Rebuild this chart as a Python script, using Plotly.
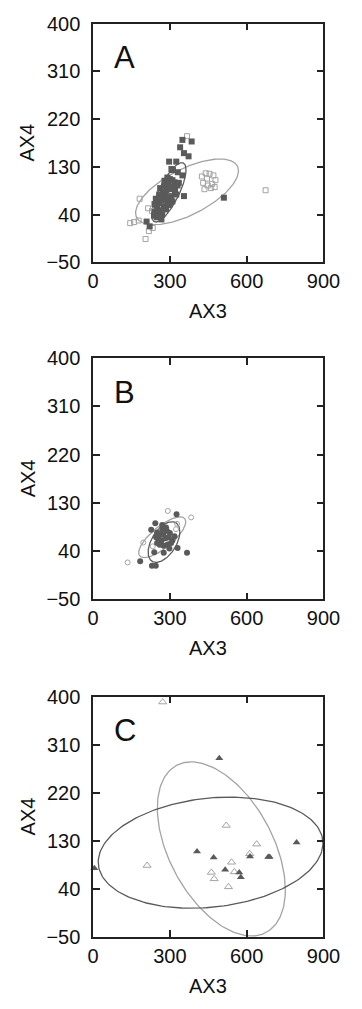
import numpy as np
import plotly.graph_objects as go

# ---------------- data ----------------
# Panel A (squares)
A_dark_x = [349, 385, 340, 355, 373, 297, 325, 306, 331, 349, 279, 300, 318, 312,
            355, 511, 249, 209, 221, 267,
            240, 250, 262, 275, 285, 295, 255, 268, 280, 292, 305, 245, 258, 272, 286,
            300, 315, 262, 278, 295, 320, 330, 248, 238, 270, 290, 310, 325, 255, 282,
            300, 265, 240, 335, 310, 290]
A_dark_y = [181, 178, 167, 156, 150, 140, 140, 126, 120, 114, 104, 107, 101, 124,
            75, 72, 35, 27, 18, 31,
            45, 52, 48, 55, 50, 58, 62, 66, 70, 72, 75, 70, 78, 82, 86,
            88, 92, 90, 95, 98, 85, 95, 58, 38, 40, 62, 65, 78, 40, 78,
            60, 72, 60, 100, 105, 110]
A_open_x = [367, 674, 182, 215, 145, 160, 178, 233, 218, 205,
            425, 440, 455, 470, 430, 448, 465, 478, 435, 460, 475, 445, 230, 290]
A_open_y = [188, 86, 70, 52, 24, 26, 29, 15, 9, -6,
            112, 118, 117, 114, 100, 95, 98, 105, 88, 90, 92, 108, 47, 100]

# Panel B (circles)
B_dark_x = [326, 243, 270, 227, 367, 184, 230, 245, 239, 276, 330,
            250, 262, 275, 288, 300, 255, 268, 282, 295, 310, 260, 275, 290, 305,
            250, 285, 270, 318, 246, 298]
B_dark_y = [109, 92, 89, 80, 37, 21, 13, 13, 38, 37, 46,
            75, 70, 72, 78, 74, 62, 60, 64, 66, 60, 52, 50, 52, 55,
            55, 84, 80, 68, 66, 45]
B_open_x = [292, 383, 328, 135, 196, 233, 324, 262, 280, 300]
B_open_y = [115, 103, 91, 19, 56, 49, 81, 78, 58, 62]

# Panel C (triangles)
C_dark_x = [493, -38, 5, 406, 471, 516, 571, 577, 613, 684, 690, 795]
C_dark_y = [285, 101, 79, 110, 99, 76, 71, 62, 101, 100, 100, 127]
C_open_x = [272, 520, 639, 612, 541, 211, 462, 473, 552, 529]
C_open_y = [390, 159, 124, 106, 90, 84, 71, 59, 72, 44]

# Ellipses: centre x, centre y, sd x, sd y, correlation
A_ell_dark = (296, 82, 67, 56, 0.76)
A_ell_gray = (367, 83, 201, 62, 0.64)
B_ell_dark = (277, 57, 62, 38, 0.50)
B_ell_gray = (270, 66, 92, 38, 0.76)
C_ell_dark = (459, 108, 439, 104, 0.17)
C_ell_gray = (501, 115, 250, 163, -0.47)

panel_labels = ["A", "B", "C"]
x_ticks = [0, 300, 600, 900]
y_ticks = [-50, 40, 130, 220, 310, 400]
x_title = "AX3"
y_title = "AX4"

# ---------------- styling ----------------
DARK = "#5a5a5a"
LIGHT = "#a3a3a3"
FONT = "Liberation Sans, Arial, sans-serif"
W, H = 362, 1009
x_dom = [93 / W, 339 / W]
y_doms = [[1 - 257 / H, 1 - 13 / H],
          [1 - 601.5 / H, 1 - 355 / H],
          [1 - 946.7 / H, 1 - 701 / H]]


def ellipse(p, n=200):
    cx, cy, sx, sy, r = p
    t = np.linspace(0, 2 * np.pi, n)
    x = cx + sx * np.cos(t)
    y = cy + sy * (r * np.cos(t) + np.sqrt(1 - r * r) * np.sin(t))
    return x, y


fig = go.Figure()

panels = [
    (A_dark_x, A_dark_y, A_open_x, A_open_y, "square", 6, 5, A_ell_dark, A_ell_gray),
    (B_dark_x, B_dark_y, B_open_x, B_open_y, "circle", 6, 5, B_ell_dark, B_ell_gray),
    (C_dark_x, C_dark_y, C_open_x, C_open_y, "triangle-up", 7, 7, C_ell_dark, C_ell_gray),
]

for i, (dx, dy, ox, oy, sym, sd, so, ed, eg) in enumerate(panels):
    xa = "x" if i == 0 else f"x{i+1}"
    ya = "y" if i == 0 else f"y{i+1}"
    ex, ey = ellipse(eg)
    fig.add_trace(go.Scatter(x=ex, y=ey, mode="lines", xaxis=xa, yaxis=ya,
                             line=dict(color=LIGHT, width=1.3), showlegend=False,
                             hoverinfo="skip"))
    ex, ey = ellipse(ed)
    fig.add_trace(go.Scatter(x=ex, y=ey, mode="lines", xaxis=xa, yaxis=ya,
                             line=dict(color=DARK, width=1.3), showlegend=False,
                             hoverinfo="skip"))
    fig.add_trace(go.Scatter(x=ox, y=oy, mode="markers", xaxis=xa, yaxis=ya,
                             marker=dict(symbol=sym + "-open", size=so, color=LIGHT,
                                         line=dict(width=1, color=LIGHT)),
                             cliponaxis=False, showlegend=False))
    fig.add_trace(go.Scatter(x=dx, y=dy, mode="markers", xaxis=xa, yaxis=ya,
                             marker=dict(symbol=sym, size=sd, color=DARK,
                                         line=dict(width=0)),
                             cliponaxis=False, showlegend=False))

axis_common = dict(showline=True, linecolor="#222222", linewidth=1.5, mirror="ticks",
                   ticks="inside", ticklen=7, tickwidth=1.5, tickcolor="#222222",
                   showgrid=False, zeroline=False,
                   tickfont=dict(family=FONT, size=20, color="#111111"))

layout = dict(width=W, height=H, margin=dict(l=0, r=0, t=0, b=0),
              paper_bgcolor="white", plot_bgcolor="white", showlegend=False,
              font=dict(family=FONT, color="#111111"))
annotations = []
for i in range(3):
    sx = "" if i == 0 else str(i + 1)
    layout["xaxis" + sx] = dict(axis_common, domain=x_dom, range=[0, 900],
                                tickvals=x_ticks, anchor="y" + sx,
                                ticklabelstandoff=0)
    layout["yaxis" + sx] = dict(axis_common, domain=y_doms[i], range=[-50, 400],
                                tickvals=y_ticks, anchor="x" + sx,
                                ticklabelstandoff=7)
    y0, y1 = y_doms[i]
    annotations.append(dict(text=panel_labels[i], xref="paper", yref="paper",
                            x=127 / W, y=y1 - 35 / H, showarrow=False,
                            xanchor="center", yanchor="middle",
                            font=dict(family=FONT, size=31, color="#111111")))
    annotations.append(dict(text=x_title, xref="paper", yref="paper",
                            x=(x_dom[0] + x_dom[1]) / 2, y=y0 - 50 / H,
                            showarrow=False, xanchor="center", yanchor="middle",
                            font=dict(family=FONT, size=20, color="#111111")))
    annotations.append(dict(text=y_title, xref="paper", yref="paper",
                            x=23 / W, y=(y0 + y1) / 2, textangle=-90,
                            showarrow=False, xanchor="center", yanchor="middle",
                            font=dict(family=FONT, size=20, color="#111111")))
layout["annotations"] = annotations
fig.update_layout(**layout)

fig.write_html("out.html")
